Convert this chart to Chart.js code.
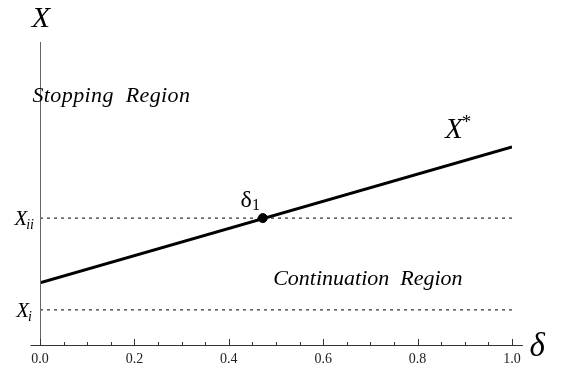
<!DOCTYPE html>
<html>
<head>
<meta charset="utf-8">
<script src="https://cdn.jsdelivr.net/npm/chart.js@4/dist/chart.umd.min.js"></script>
<style>
html,body{margin:0;padding:0;background:#fff;}
canvas{display:block;}
</style>
</head>
<body>
<canvas id="c" width="565" height="374"></canvas>
<script>
// ---- data ----
const deltaValues = [0.0, 1.0];            // delta range of the boundary line
const boundaryValues = [0.207, 0.66];      // X* at delta = 0 and delta = 1
const xiiLevel = [0.423, 0.423];           // X_ii threshold
const xiLevel = [0.117, 0.117];            // X_i threshold
const delta1Point = [{x: 0.472, y: 0.423}];// delta_1 intersection
const xTickLabels = ['0.0', '0.2', '0.4', '0.6', '0.8', '1.0'];
const xTickValues = [0.0, 0.2, 0.4, 0.6, 0.8, 1.0];

const toPts = (xs, ys) => xs.map((x, i) => ({x: x, y: ys[i]}));
const SERIF = '"Liberation Serif", "DejaVu Serif", serif';

const axesPlugin = {
  id: 'customAxes',
  afterDraw(chart) {
    const ctx = chart.ctx;
    const xs = chart.scales.x, ys = chart.scales.y;
    const y0 = ys.getPixelForValue(0);
    const x0 = xs.getPixelForValue(0);
    ctx.save();
    // y axis
    ctx.strokeStyle = '#666';
    ctx.lineWidth = 1;
    ctx.beginPath();
    ctx.moveTo(x0 + 0.5, ys.getPixelForValue(1.01));
    ctx.lineTo(x0 + 0.5, y0);
    ctx.stroke();
    // x axis
    ctx.strokeStyle = '#333';
    ctx.beginPath();
    ctx.moveTo(xs.getPixelForValue(-0.02), y0 + 0.5);
    ctx.lineTo(xs.getPixelForValue(1.023), y0 + 0.5);
    ctx.stroke();
    // ticks
    for (let i = 0; i <= 20; i++) {
      const v = i * 0.05;
      const px = Math.round(xs.getPixelForValue(v)) + 0.5;
      const major = i % 4 === 0;
      ctx.beginPath();
      ctx.moveTo(px, y0);
      ctx.lineTo(px, y0 - (major ? 6 : 3));
      ctx.stroke();
    }
    // tick labels
    ctx.fillStyle = '#222';
    ctx.font = '14px ' + SERIF;
    ctx.textAlign = 'center';
    ctx.textBaseline = 'middle';
    xTickValues.forEach((v, i) => {
      ctx.fillText(xTickLabels[i], xs.getPixelForValue(v), y0 + 14);
    });

    // axis titles
    ctx.fillStyle = '#000';
    ctx.font = 'italic 30px ' + SERIF;
    ctx.textAlign = 'center';
    ctx.textBaseline = 'alphabetic';
    ctx.fillText('X', x0 + 1, 27);
    ctx.textAlign = 'left';
    ctx.font = 'italic 33px ' + SERIF;
    ctx.fillText('\u03B4', xs.getPixelForValue(1.037), y0 + 11);

    // y labels X_ii, X_i
    const drawSub = (main, sub, xRight, yVal) => {
      const py = ys.getPixelForValue(yVal);
      ctx.font = 'italic 21px ' + SERIF;
      const wm = ctx.measureText(main).width;
      ctx.font = 'italic 14px ' + SERIF;
      const ws = ctx.measureText(sub).width;
      const start = xRight - wm - ws;
      ctx.textAlign = 'left';
      ctx.font = 'italic 21px ' + SERIF;
      ctx.fillText(main, start, py + 7);
      ctx.font = 'italic 14px ' + SERIF;
      ctx.fillText(sub, start + wm - 1, py + 11);
    };
    drawSub('X', 'ii', x0 - 5, xiiLevel[0]);
    drawSub('X', 'i', x0 - 7, xiLevel[0]);

    // X* label
    ctx.font = 'italic 29px ' + SERIF;
    ctx.textAlign = 'left';
    const sx = xs.getPixelForValue(0.858), sy = ys.getPixelForValue(0.69);
    ctx.fillText('X', sx, sy);
    const wX = ctx.measureText('X').width;
    ctx.font = '19px ' + SERIF;
    ctx.fillText('*', sx + wX - 1, sy - 10);

    // delta_1 label
    const dx = xs.getPixelForValue(0.425), dy = ys.getPixelForValue(0.46);
    ctx.font = '24px ' + SERIF;
    ctx.fillText('\u03B4', dx, dy);
    const wd = ctx.measureText('\u03B4').width;
    ctx.font = '16px ' + SERIF;
    ctx.fillText('1', dx + wd, dy + 3);

    // region labels
    ctx.font = 'italic 22px ' + SERIF;
    ctx.letterSpacing = '0.4px';
    ctx.fillText('Stopping  Region', xs.getPixelForValue(-0.016), ys.getPixelForValue(0.81));
    ctx.letterSpacing = '0px';
    ctx.fillText('Continuation  Region', xs.getPixelForValue(0.494), ys.getPixelForValue(0.2));
    ctx.restore();
  }
};

new Chart(document.getElementById('c'), {
  type: 'scatter',
  data: {
    datasets: [
      { data: toPts(deltaValues, xiiLevel), showLine: true, borderColor: '#000', borderWidth: 1, borderDash: [3, 4], pointRadius: 0 },
      { data: toPts(deltaValues, xiLevel), showLine: true, borderColor: '#000', borderWidth: 1, borderDash: [3, 4], pointRadius: 0 },
      { data: toPts(deltaValues, boundaryValues), showLine: true, borderColor: '#000', borderWidth: 3, pointRadius: 0 },
      { data: delta1Point, showLine: false, backgroundColor: '#000', borderColor: '#000', pointRadius: 4.5 }
    ]
  },
  options: {
    responsive: false,
    animation: false,
    layout: { padding: { left: 40, right: 53, top: 45, bottom: 29 } },
    plugins: { legend: { display: false }, tooltip: { enabled: false } },
    scales: {
      x: { type: 'linear', min: 0, max: 1, display: false },
      y: { type: 'linear', min: 0, max: 1, display: false }
    }
  },
  plugins: [axesPlugin]
});
</script>
</body>
</html>
